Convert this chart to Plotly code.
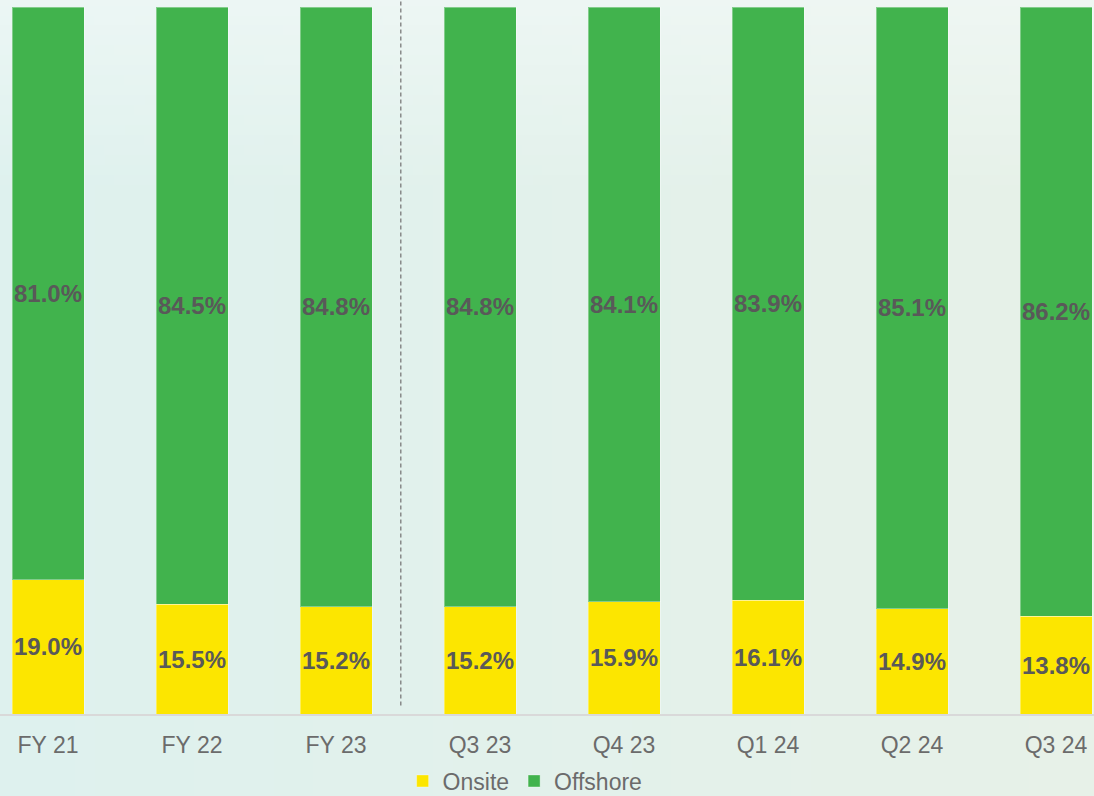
import base64
import struct
import zlib

import plotly.graph_objects as go

# ---------------- data ----------------
categories = ["FY 21", "FY 22", "FY 23", "Q3 23", "Q4 23", "Q1 24", "Q2 24", "Q3 24"]
onsite = [19.0, 15.5, 15.2, 15.2, 15.9, 16.1, 14.9, 13.8]
offshore = [81.0, 84.5, 84.8, 84.8, 84.1, 83.9, 85.1, 86.2]
series_names = ["Onsite", "Offshore"]

# ---------------- style ----------------
YELLOW = "#fce600"
GREEN = "#41b34d"
LABEL = "#595959"
TICK = "#6b6b6b"
FONT = "Arial, Liberation Sans, sans-serif"

W, H = 1094, 796
M_T, M_B = 7, 82
PLOT_H = H - M_T - M_B


def gradient_png(w, h):
    left = (222, 241, 238)
    right = (231, 241, 232)
    top = (243, 249, 248)
    rows = []
    for j in range(h):
        yfrac = j / (h - 1)
        t = max(0.0, 1.0 - yfrac / 0.24) * 0.65
        row = bytearray(b"\x00")
        for i in range(w):
            xf = i / (w - 1)
            base = [left[k] + (right[k] - left[k]) * xf for k in range(3)]
            c = [int(round(base[k] + (top[k] - base[k]) * t)) for k in range(3)]
            row.extend(c)
        rows.append(bytes(row))
    raw = b"".join(rows)

    def chunk(tag, data):
        return (struct.pack(">I", len(data)) + tag + data
                + struct.pack(">I", zlib.crc32(tag + data) & 0xffffffff))

    png = b"\x89PNG\r\n\x1a\n"
    png += chunk(b"IHDR", struct.pack(">IIBBBBB", w, h, 8, 2, 0, 0, 0))
    png += chunk(b"IDAT", zlib.compress(raw, 9))
    png += chunk(b"IEND", b"")
    return "data:image/png;base64," + base64.b64encode(png).decode()


fig = go.Figure()
for name, vals, col in [(series_names[0], onsite, YELLOW), (series_names[1], offshore, GREEN)]:
    fig.add_trace(go.Bar(
        name=name, x=categories, y=vals,
        marker=dict(color=col, line=dict(color="rgba(255,255,255,0.35)", width=1)),
        width=0.5,
        text=[f"{v:.1f}%" for v in vals],
        texttemplate="%{text}",
        textposition="inside",
        insidetextanchor="middle",
        textangle=0,
        constraintext="none",
        textfont=dict(family=FONT, size=24, color=LABEL, weight="bold"),
        hoverinfo="skip",
    ))

# category range so first bar centre sits at x=48px, spacing 144px
r0 = -48 / 144
r1 = r0 + W / 144

fig.add_shape(type="line", xref="x", yref="paper",
              x0=2.45, x1=2.45, y0=0.012, y1=1.0 + M_T / PLOT_H,
              line=dict(color="#7a7a7a", width=1.3, dash="4px,3px"), layer="above")

fig.add_layout_image(dict(
    source=gradient_png(110, 80), xref="paper", yref="paper",
    x=0, y=1 + M_T / PLOT_H, sizex=1, sizey=H / PLOT_H,
    xanchor="left", yanchor="top", sizing="stretch", layer="below",
))

fig.update_layout(
    width=W, height=H,
    barmode="stack",
    margin=dict(l=0, r=0, t=M_T, b=M_B, autoexpand=False),
    paper_bgcolor="#e3f1ec",
    plot_bgcolor="rgba(0,0,0,0)",
    font=dict(family=FONT, color=TICK),
    showlegend=True,
    legend=dict(orientation="h", x=0.48, xanchor="center",
                y=-67 / PLOT_H, yanchor="middle",
                font=dict(size=23, color=TICK, family=FONT),
                bgcolor="rgba(0,0,0,0)", itemwidth=30, traceorder="normal",
                borderwidth=0),
    xaxis=dict(range=[r0, r1], showgrid=False, zeroline=False,
               showline=True, linecolor="#d9d9d9", linewidth=2,
               ticks="", ticklabelstandoff=9, automargin=False,
               tickfont=dict(size=23, color=TICK, family=FONT),
               fixedrange=True),
    yaxis=dict(range=[0, 100], visible=False, fixedrange=True, automargin=False),
)

fig.write_html("out.html", config={"displayModeBar": False})

# remove default page margin so the figure fills the window exactly
with open("out.html", "r", encoding="utf-8") as f:
    html = f.read()
html = html.replace("<head>", "<head><style>html,body{margin:0;padding:0;overflow:hidden}</style>", 1)
with open("out.html", "w", encoding="utf-8") as f:
    f.write(html)
